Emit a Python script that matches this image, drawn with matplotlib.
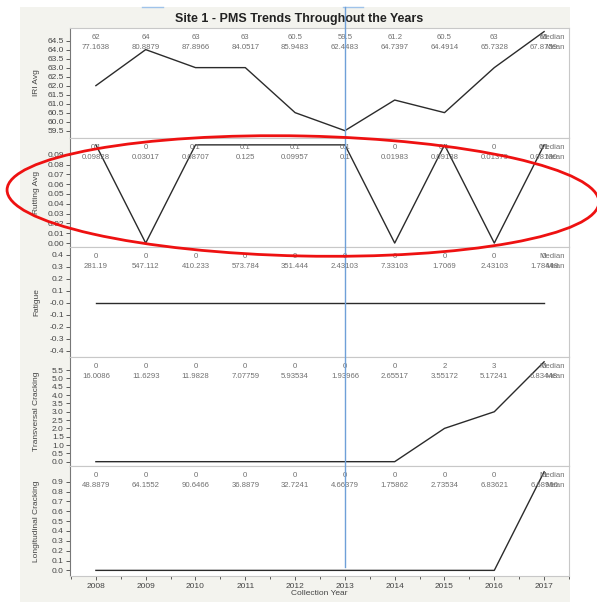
import matplotlib
matplotlib.use("Agg")
import matplotlib.pyplot as plt
import numpy as np
from matplotlib.patches import Rectangle, Ellipse
from matplotlib.lines import Line2D
from matplotlib.transforms import blended_transform_factory
from matplotlib.ticker import FixedLocator, FormatStrFormatter, MultipleLocator

plt.rcParams['font.family'] = ['Liberation Sans', 'DejaVu Sans']
plt.rcParams['axes.unicode_minus'] = False

years = [2008, 2009, 2010, 2011, 2012, 2013, 2014, 2015, 2016, 2017]

iri_median = [62, 64, 63, 63, 60.5, 59.5, 61.2, 60.5, 63, 65]
iri_mean = ["77.1638", "80.8879", "87.8966", "84.0517", "85.9483", "62.4483",
            "64.7397", "64.4914", "65.7328", "67.8759"]
iri_median_lbl = ["62", "64", "63", "63", "60.5", "59.5", "61.2", "60.5", "63", "65"]

rut_median = [0.1, 0, 0.1, 0.1, 0.1, 0.1, 0, 0.1, 0, 0.1]
rut_mean = ["0.09828", "0.03017", "0.08707", "0.125", "0.09957", "0.1",
            "0.01983", "0.09138", "0.01379", "0.08190"]
rut_median_lbl = ["0.1", "0", "0.1", "0.1", "0.1", "0.1", "0", "0.1", "0", "0.1"]

fat_median = [0, 0, 0, 0, 0, 0, 0, 0, 0, 0]
fat_mean = ["281.19", "547.112", "410.233", "573.784", "351.444", "2.43103",
            "7.33103", "1.7069", "2.43103", "1.78448"]
fat_median_lbl = ["0"] * 10

tra_median = [0, 0, 0, 0, 0, 0, 0, 2, 3, 6]
tra_mean = ["16.0086", "11.6293", "11.9828", "7.07759", "5.93534", "1.93966",
            "2.65517", "3.55172", "5.17241", "6.83448"]
tra_median_lbl = ["0", "0", "0", "0", "0", "0", "0", "2", "3", "6"]

lon_median = [0, 0, 0, 0, 0, 0, 0, 0, 0, 1]
lon_mean = ["48.8879", "64.1552", "90.6466", "36.8879", "32.7241", "4.66379",
            "1.75862", "2.73534", "6.83621", "6.68966"]
lon_median_lbl = ["0"] * 9 + ["1"]

panel_labels = ["IRI Avg", "Rutting Avg", "Fatigue", "Transversal Cracking",
                "Longitudinal Cracking"]

W, H = 597, 602
fig = plt.figure(figsize=(W / 100, H / 100), dpi=100)
fig.patch.set_facecolor("white")

# gray background panel
fig.patches.append(Rectangle((20 / W, 0), 550 / W, (H - 7) / H,
                             transform=fig.transFigure, facecolor="#f3f3ee",
                             edgecolor="none", zorder=-10))

left_px, right_px = 70, 569
bounds = [28, 137.5, 247, 356.5, 466, 576]

panels = [
    (iri_median, iri_median_lbl, iri_mean, (59.12, 65.2), np.arange(59.5, 64.51, 0.5), "%.1f"),
    (rut_median, rut_median_lbl, rut_mean, (-0.004, 0.1075), np.arange(0, 0.0901, 0.01), "%.2f"),
    (fat_median, fat_median_lbl, fat_mean, (-0.446, 0.466), np.arange(-0.4, 0.401, 0.1), "%.1f"),
    (tra_median, tra_median_lbl, tra_mean, (-0.26, 6.32), np.arange(0, 5.51, 0.5), "%.1f"),
    (lon_median, lon_median_lbl, lon_mean, (-0.057, 1.059), np.arange(0, 0.901, 0.1), "%.1f"),
]

axes = []
for i, (med, medlbl, mean, ylim, ticks, fmt) in enumerate(panels):
    top, bot = bounds[i], bounds[i + 1]
    ax = fig.add_axes([left_px / W, 1 - bot / H, (right_px - left_px) / W, (bot - top) / H])
    ax.set_facecolor("white")
    ax.plot(years, med, color="#2b2b2b", lw=1.0, zorder=3)
    ax.set_xlim(2007.48, 2017.5)
    ax.set_ylim(*ylim)
    ax.yaxis.set_major_locator(FixedLocator(ticks))
    ax.yaxis.set_major_formatter(FormatStrFormatter(fmt))
    ax.tick_params(axis="y", labelsize=6, colors="#444444", length=3, width=0.6, pad=1.5)
    for s in ["top", "right", "bottom"]:
        ax.spines[s].set_color("#c8c8c8")
        ax.spines[s].set_linewidth(0.8)
    ax.spines["left"].set_color("#777777")
    ax.spines["left"].set_linewidth(0.8)
    ax.set_ylabel(panel_labels[i], fontsize=6, color="#444444", labelpad=6)
    ax.yaxis.set_label_coords(-30 / (right_px - left_px), 0.5)
    tr = blended_transform_factory(ax.transData, ax.transAxes)
    h = bot - top
    y1 = 1 - 9.7 / h
    y2 = 1 - 19.7 / h
    for yr, ml, mn in zip(years, medlbl, mean):
        ax.text(yr, y1, ml, transform=tr, ha="center", va="center", fontsize=5.6, color="#707070")
        ax.text(yr, y2, mn, transform=tr, ha="center", va="center", fontsize=5.6, color="#707070")
    xr = 1 - 4 / (right_px - left_px)
    ax.text(xr, y1, "Median", transform=ax.transAxes, ha="right", va="center", fontsize=5.6, color="#707070")
    ax.text(xr, y2, "Mean", transform=ax.transAxes, ha="right", va="center", fontsize=5.6, color="#707070")
    if i < 4:
        ax.set_xticks([])
    else:
        ax.set_xticks(years)
        ax.xaxis.set_minor_locator(MultipleLocator(0.5))
        ax.tick_params(axis="x", which="both", labelsize=6, colors="#444444", length=3, width=0.6, pad=2)
        ax.tick_params(axis="x", which="minor", length=2)
        ax.set_xlabel("Collection Year", fontsize=6, color="#444444", labelpad=0)
    axes.append(ax)

# vertical reference line at 2013
btr = blended_transform_factory(axes[-1].transData, fig.transFigure)
fig.add_artist(Line2D([2013, 2013], [1 - 567 / H, 1 - 7 / H], transform=btr,
                      color="#6fa0d8", lw=1.0, zorder=5))
# small blue marks at the top
fig.add_artist(Line2D([142 / W, 163 / W], [1 - 7 / H, 1 - 7 / H], transform=fig.transFigure,
                      color="#9fc3ea", lw=1.0))
fig.add_artist(Line2D([343 / W, 363 / W], [1 - 7 / H, 1 - 7 / H], transform=fig.transFigure,
                      color="#9fc3ea", lw=1.0))

fig.text(299 / W, 1 - 19 / H, "Site 1 - PMS Trends Throughout the Years",
         ha="center", va="center", fontsize=9, fontweight="bold", color="#222222")

# red ellipse annotation
ell = Ellipse((303 / W, 1 - 196 / H), 592 / W, 120 / H, angle=-1.2,
              transform=fig.transFigure, fill=False, edgecolor="#ee1111", lw=2.0, zorder=10)
fig.patches.append(ell)

fig.savefig("out.png", dpi=100)
